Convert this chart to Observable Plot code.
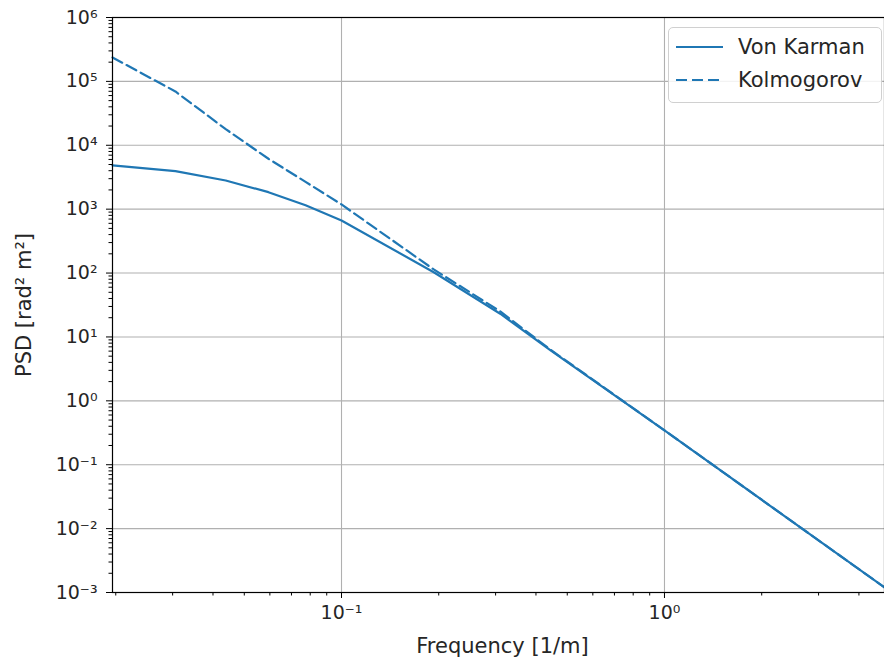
<!DOCTYPE html>
<html><head><meta charset="utf-8">
<script src="https://cdn.jsdelivr.net/npm/d3@7"></script>
<script src="https://cdn.jsdelivr.net/npm/@observablehq/plot@0.6"></script>
<style>
body{margin:0;background:#fff;font-family:"DejaVu Sans",sans-serif;}
#wrap{position:relative;width:884px;height:668px;}
#legend{position:absolute;left:668px;top:27px;width:212px;height:74px;border:1px solid #d0d0d0;border-radius:5px;background:rgba(255,255,255,0.85);font-size:21px;color:#262626;}
.item{position:absolute;left:0;height:30px;width:100%;}
.item svg{position:absolute;left:6px;top:0;}
.item span{position:absolute;left:69px;top:2px;white-space:nowrap;}
</style></head><body>
<div id="wrap"></div>
<script>
// Frequency samples [1/m]
const freq       = [0.01954, 0.0306, 0.0438, 0.0594, 0.0774, 0.1, 0.193, 0.31, 0.444, 1.0, 4.8];
// PSD values [rad^2 m^2]
const vonKarman  = [4830, 3935, 2812, 1845, 1150, 665, 103, 23.1, 6.15, 0.344, 0.0012];
const kolmogorov = [237000, 69500, 17900, 6150, 2675, 1185, 114, 25.1, 6.3, 0.345, 0.0012];
const seriesNames = ["Von Karman", "Kolmogorov"];
const xMajor = [0.1, 1];
const yMajor = [1e-3, 1e-2, 1e-1, 1e0, 1e1, 1e2, 1e3, 1e4, 1e5, 1e6];
const xLabel = "Frequency [1/m]";
const yLabel = "PSD [rad² m²]";

const color = "#1f77b4";
const sup = {"-":"⁻","0":"⁰","1":"¹","2":"²","3":"³","4":"⁴","5":"⁵","6":"⁶","7":"⁷","8":"⁸","9":"⁹"};
const fmt = d => "10" + String(Math.round(Math.log10(d))).split("").map(c => sup[c]).join("");

const rows = [];
seriesNames.forEach((s, k) => {
  const vals = k === 0 ? vonKarman : kolmogorov;
  freq.forEach((f, i) => rows.push({f, v: vals[i], series: s}));
});

const xDomain = [0.01954, 4.8];
const xMinor = [];
for (let e = -2; e <= 0; e++) for (let m = 2; m <= 9; m++) {
  const v = m * 10 ** e; if (v >= xDomain[0] && v <= xDomain[1]) xMinor.push(v);
}
const yMinor = [];
for (let e = -3; e < 6; e++) for (let m = 2; m <= 9; m++) yMinor.push(m * 10 ** e);

const chart = Plot.plot({
  width: 884, height: 668,
  marginLeft: 112, marginRight: 0, marginTop: 17, marginBottom: 76,
  style: {fontFamily: "DejaVu Sans, sans-serif", color: "#262626", background: "white"},
  x: {type: "log", domain: xDomain, axis: null},
  y: {type: "log", domain: [1e-3, 1e6], axis: null},
  marks: [
    Plot.gridX(xMajor, {stroke: "#b0b0b0", strokeOpacity: 1, strokeWidth: 1.1}),
    Plot.gridY(yMajor, {stroke: "#b0b0b0", strokeOpacity: 1, strokeWidth: 1.1}),
    Plot.line(rows.filter(d => d.series === seriesNames[0]), {x: "f", y: "v", stroke: color, strokeWidth: 2.2}),
    Plot.line(rows.filter(d => d.series === seriesNames[1]), {x: "f", y: "v", stroke: color, strokeWidth: 2.2, strokeDasharray: "11,5"}),
    Plot.frame({stroke: "#000", strokeWidth: 1.2}),
    Plot.axisX(xMajor, {tickSize: 6, tickPadding: 7, tickFormat: fmt, fontSize: 19, stroke: "#000", label: null}),
    Plot.axisX(xMinor, {tickSize: 3.5, tickFormat: () => "", stroke: "#000", label: null}),
    Plot.axisY(yMajor, {tickSize: 6, tickPadding: 9, tickFormat: fmt, fontSize: 19, stroke: "#000", label: null}),
    Plot.axisY(yMinor, {tickSize: 3.5, tickFormat: () => "", stroke: "#000", label: null}),
    Plot.text([xLabel], {frameAnchor: "bottom", dy: 60, dx: 4, text: d => d, fontSize: 21, fill: "#262626", textAnchor: "middle"}),
    Plot.text([yLabel], {frameAnchor: "left", dx: -88, rotate: -90, text: d => d, fontSize: 21, fill: "#262626", textAnchor: "middle"})
  ]
});

const wrap = document.getElementById("wrap");
wrap.appendChild(chart);
const lg = document.createElement("div");
lg.id = "legend";
lg.innerHTML = seriesNames.map((s, i) =>
  `<div class="item" style="top:${5 + i * 33}px"><svg width="50" height="30"><line x1="1" x2="48" y1="14" y2="14" stroke="${color}" stroke-width="2.2" ${i === 1 ? 'stroke-dasharray="11,5"' : ''}/></svg><span>${s}</span></div>`
).join("");
wrap.appendChild(lg);
</script>
</body></html>
